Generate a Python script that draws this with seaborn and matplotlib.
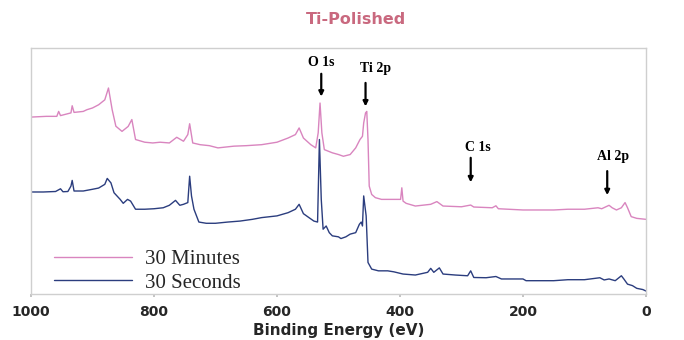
import matplotlib
matplotlib.use("Agg")
import matplotlib.pyplot as plt
import seaborn as sns
import pandas as pd

# Binding energy (eV) and relative intensity (arbitrary units, 0-100 of plot height)
be_min = [1000, 975, 958, 955, 952, 935, 933, 930, 915, 909, 900, 890, 880, 874, 868, 862, 852, 842, 836, 830,
          815, 802, 790, 775, 763, 752, 745, 742, 737, 725, 710, 696, 670, 650, 625, 600, 582, 570, 564, 557,
          545, 537, 533, 530, 527, 523, 510, 500, 492, 481, 472, 465, 461, 459, 456, 454, 452, 450, 446, 440,
          430, 410, 399, 397, 395, 390, 375, 350, 340, 330, 300, 285, 280, 250, 244, 240, 200, 150, 127, 100,
          78, 72, 60, 55, 48, 40, 34, 30, 24, 15, 0]
int_min = [71.8, 72.1, 72.1, 74.1, 72.4, 73.5, 76.4, 73.7, 74.1, 74.8, 75.5, 76.8, 78.8, 83.6, 74.8, 68.1, 66.0, 68.0, 70.8, 62.7,
           61.6, 61.3, 61.6, 61.3, 63.6, 62.0, 64.7, 69.1, 61.3, 60.6, 60.2, 59.3, 60.0, 60.2, 60.6, 61.6, 63.3, 64.7, 67.4, 63.3,
           60.6, 59.3, 65.4, 77.5, 65.4, 58.6, 57.3, 56.6, 55.9, 56.6, 59.3, 62.7, 64.0, 69.4, 73.5, 74.1, 62.7, 43.8, 40.4, 39.1,
           38.4, 38.4, 38.4, 43.1, 37.7, 36.8, 35.7, 36.4, 37.5, 35.7, 35.4, 36.1, 35.3, 35.0, 35.8, 34.6, 34.1, 34.1, 34.4, 34.4,
           35.0, 34.6, 36.0, 35.0, 34.1, 35.0, 37.1, 35.0, 31.4, 30.7, 30.3]

be_sec = [1000, 980, 960, 952, 948, 940, 935, 933, 930, 915, 900, 890, 880, 876, 870, 865, 855, 850, 843, 838,
          830, 815, 800, 785, 775, 765, 758, 752, 745, 742, 739, 735, 727, 715, 700, 680, 660, 640, 625, 600,
          582, 570, 564, 557, 548, 540, 534, 531, 528, 525, 520, 515, 510, 500, 496, 488, 481, 472, 466, 463,
          461, 459, 457, 455, 452, 446, 435, 420, 410, 395, 375, 355, 350, 345, 336, 330, 310, 290, 285, 280,
          260, 244, 235, 200, 195, 150, 127, 100, 75, 68, 60, 50, 40, 36, 30, 22, 15, 5, 0]
int_sec = [41.4, 41.4, 41.6, 42.7, 41.5, 41.6, 43.8, 46.1, 41.8, 41.8, 42.5, 43.0, 44.5, 46.9, 45.1, 41.1, 38.4, 36.8, 38.4, 37.7,
           34.4, 34.4, 34.6, 35.0, 36.0, 38.0, 36.0, 36.4, 37.1, 47.8, 39.8, 34.4, 29.2, 28.7, 28.7, 29.2, 29.6, 30.3, 31.0, 31.7,
           33.0, 34.4, 36.4, 32.6, 31.0, 29.6, 29.2, 62.7, 38.4, 26.3, 27.6, 24.9, 23.6, 23.2, 22.5, 23.2, 24.3, 24.9, 28.3, 29.2,
           27.6, 39.8, 35.7, 31.7, 12.8, 10.1, 9.4, 9.4, 9.0, 8.1, 7.7, 8.8, 10.4, 8.8, 10.6, 8.1, 7.7, 7.4, 9.4, 6.7,
           6.6, 7.1, 6.1, 6.1, 5.4, 5.4, 5.8, 5.8, 6.6, 5.7, 6.1, 5.4, 7.4, 6.1, 4.0, 3.4, 2.3, 1.8, 1.2]

series_names = ["30 Minutes", "30 Seconds"]
series_colors = ["#d985bf", "#2b3d7e"]

peak_labels = ["O 1s", "Ti 2p", "C 1s", "Al 2p"]
peak_be = [528, 456, 285, 63]
arrow_tail = [90.5, 86.8, 56.4, 51.0]
arrow_head = [79.0, 75.0, 44.2, 39.0]
label_x = [528, 440, 274, 54]
label_y = [94.0, 91.5, 59.5, 56.0]

df = pd.concat([
    pd.DataFrame({"Binding Energy": be_min, "Intensity": int_min, "Sample": series_names[0]}),
    pd.DataFrame({"Binding Energy": be_sec, "Intensity": int_sec, "Sample": series_names[1]}),
])

sns.set_theme(style="white")
fig = plt.figure(figsize=(6.84, 3.40), dpi=100)
ax = fig.add_axes([0.0453, 0.1353, 0.8991, 0.7247])

sns.lineplot(data=df, x="Binding Energy", y="Intensity", hue="Sample",
             palette=dict(zip(series_names, series_colors)), linewidth=1.0,
             ax=ax, estimator=None, sort=True)

ax.set_xlim(1000, 0)
ax.set_ylim(0, 100)
ax.set_xticks([1000, 800, 600, 400, 200, 0])
ax.set_xticklabels(["1000", "800", "600", "400", "200", "0"], fontsize=10, fontweight="bold")
ax.set_yticks([])
ax.set_ylabel("")
ax.set_xlabel("Binding Energy (eV)", fontsize=11, fontweight="bold", labelpad=3)
ax.tick_params(axis="x", length=2, color="#bbbbbb", pad=6, bottom=True)
for sp in ax.spines.values():
    sp.set_color("#cfcfcf")
    sp.set_linewidth(1.0)

for lab, xb, t, h, lx, ly in zip(peak_labels, peak_be, arrow_tail, arrow_head, label_x, label_y):
    ax.annotate("", xy=(xb, h), xytext=(xb, t),
                arrowprops=dict(arrowstyle="-|>", color="black", lw=1.6, mutation_scale=7))
    ax.text(lx, ly, lab, ha="center", va="center", fontsize=10, fontweight="bold",
            family="Liberation Serif", color="black")

leg = ax.legend(loc="lower left", bbox_to_anchor=(0.038, 0.005), frameon=False,
                handlelength=3.75, handletextpad=0.6, labelspacing=0.2,
                borderpad=0, borderaxespad=0,
                prop={"family": "Liberation Serif", "size": 15})
for line in leg.get_lines():
    line.set_linewidth(1.0)

fig.text(0.521, 0.944, "Ti-Polished", ha="center", va="center", fontsize=11.5,
         fontweight="bold", color="#c9697f")

fig.savefig("out.png", dpi=100)
